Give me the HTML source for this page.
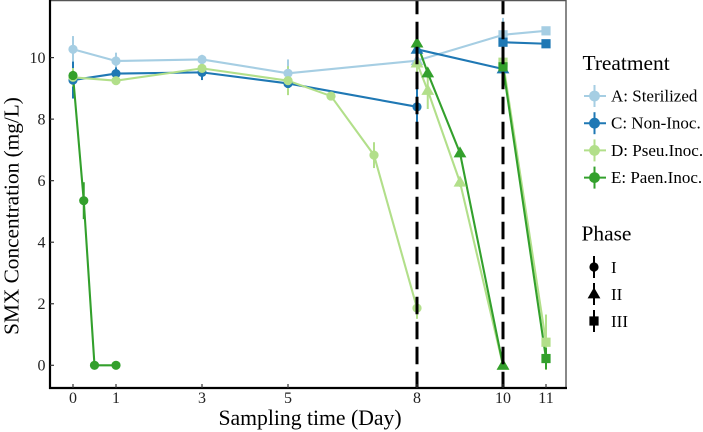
<!DOCTYPE html>
<html>
<head>
<meta charset="utf-8">
<style>
html,body{margin:0;padding:0;background:#fff;}
svg{display:block;font-family:"Liberation Serif",serif;}
</style>
</head>
<body>
<svg id="chart" xmlns="http://www.w3.org/2000/svg" width="703" height="432" viewBox="0 0 703 432">
<rect x="0" y="0" width="703" height="432" fill="#fff"/>
<g id="marks"></g>
<g id="axes"></g>
<text x="310" y="425" font-size="21.7" text-anchor="middle" fill="#000">Sampling time (Day)</text>
<text transform="translate(18.5,216) rotate(-90)" font-size="21.3" text-anchor="middle" fill="#000">SMX Concentration (mg/L)</text>
<g id="legend"></g>
</svg>
<script>
const xTicks = [0, 1, 3, 5, 8, 10, 11];
const yTicks = [0, 2, 4, 6, 8, 10];
const phaseBreaks = [8, 10];

const treatmentNames = ["A: Sterilized", "C: Non-Inoc.", "D: Pseu.Inoc.", "E: Paen.Inoc."];
const phaseNames = ["I", "II", "III"];

const aDays = [0, 1, 3, 5, 8, 10, 11];
const aValues = [10.27, 9.89, 9.94, 9.49, 9.9, 10.74, 10.87];
const aErrors = [0.43, 0.27, 0.15, 0.45, 0.5, 0.55, 0.08];
const aPhases = ["I", "I", "I", "I", "II", "III", "III"];

const c1Days = [0, 1, 3, 5, 8];
const c1Values = [9.27, 9.48, 9.52, 9.16, 8.4];
const c1Errors = [0.6, 0.2, 0.25, 0.15, 0.6];
const c2Days = [8, 10];
const c2Values = [10.27, 9.63];
const c2Errors = [0.3, 0.25];
const c3Days = [10, 11];
const c3Values = [10.5, 10.45];
const c3Errors = [0.3, 0.08];

const d1Days = [0, 1, 3, 5, 6, 7, 8];
const d1Values = [9.36, 9.25, 9.65, 9.25, 8.75, 6.83, 1.86];
const d1Errors = [0.3, 0.12, 0.12, 0.47, 0.1, 0.42, 0.35];
const d2Days = [8, 8.25, 9, 10];
const d2Values = [9.82, 8.93, 5.95, 0];
const d2Errors = [0.45, 0.6, 0.15, 0.05];
const d3Days = [10, 11];
const d3Values = [9.85, 0.75];
const d3Errors = [0.3, 0.9];

const e1Days = [0, 0.25, 0.5, 1];
const e1Values = [9.42, 5.35, 0, 0];
const e1Errors = [0.15, 0.6, 0.02, 0.02];
const e2Days = [8, 8.25, 9, 10];
const e2Values = [10.47, 9.5, 6.9, 0];
const e2Errors = [0.15, 0.15, 0.12, 0.05];
const e3Days = [10, 11];
const e3Values = [9.7, 0.22];
const e3Errors = [0.25, 0.35];

const NS = "http://www.w3.org/2000/svg";
const colors = ["#a6cee3", "#1f78b4", "#b2df8a", "#33a02c"];
function xScale(d) { return 73 + 43 * d; }
function yScale(v) { return 365.3 - 30.77 * v; }
function make(tag, attrs, parent) {
  const el = document.createElementNS(NS, tag);
  for (const k in attrs) el.setAttribute(k, attrs[k]);
  parent.appendChild(el);
  return el;
}
function fixedPhase(n, p) { return new Array(n).fill(p); }

const paths = [
  { t: 0, key: "a", days: aDays, values: aValues, errors: aErrors, phases: aPhases },
  { t: 1, key: "c-phase-1", days: c1Days, values: c1Values, errors: c1Errors, phases: fixedPhase(c1Days.length, "I") },
  { t: 1, key: "c-phase-2", days: c2Days, values: c2Values, errors: c2Errors, phases: fixedPhase(c2Days.length, "II") },
  { t: 1, key: "c-phase-3", days: c3Days, values: c3Values, errors: c3Errors, phases: fixedPhase(c3Days.length, "III") },
  { t: 2, key: "d-phase-1", days: d1Days, values: d1Values, errors: d1Errors, phases: fixedPhase(d1Days.length, "I") },
  { t: 2, key: "d-phase-2", days: d2Days, values: d2Values, errors: d2Errors, phases: fixedPhase(d2Days.length, "II") },
  { t: 2, key: "d-phase-3", days: d3Days, values: d3Values, errors: d3Errors, phases: fixedPhase(d3Days.length, "III") },
  { t: 3, key: "e-phase-1", days: e1Days, values: e1Values, errors: e1Errors, phases: fixedPhase(e1Days.length, "I") },
  { t: 3, key: "e-phase-2", days: e2Days, values: e2Values, errors: e2Errors, phases: fixedPhase(e2Days.length, "II") },
  { t: 3, key: "e-phase-3", days: e3Days, values: e3Values, errors: e3Errors, phases: fixedPhase(e3Days.length, "III") }
];

function drawShape(parent, phase, cx, cy, fill) {
  let el;
  if (phase === "I") {
    el = make("circle", { cx: cx, cy: cy, r: 4.6, fill: fill }, parent);
  } else if (phase === "II") {
    const pts = [[cx, cy - 6.6], [cx + 6.4, cy + 4.4], [cx - 6.4, cy + 4.4]].map(function (p) { return p.join(","); }).join(" ");
    el = make("polygon", { points: pts, fill: fill }, parent);
  } else {
    el = make("rect", { x: cx - 4.6, y: cy - 4.6, width: 9.2, height: 9.2, fill: fill }, parent);
  }
  return el;
}

const marks = document.getElementById("marks");

paths.forEach(function (p) {
  p.days.forEach(function (d, i) {
    const bar = make("line", {
      x1: xScale(d), x2: xScale(d),
      y1: yScale(p.values[i] - p.errors[i]), y2: yScale(p.values[i] + p.errors[i]),
      stroke: colors[p.t], "stroke-width": 2
    }, marks);
    
    
  });
  const line = make("polyline", {
    points: p.days.map(function (d, i) { return xScale(d) + "," + yScale(p.values[i]); }).join(" "),
    fill: "none", stroke: colors[p.t], "stroke-width": 2.1, "stroke-linejoin": "round"
  }, marks);
  
  
});

paths.forEach(function (p) {
  p.days.forEach(function (d, i) {
    const s = drawShape(marks, p.phases[i], xScale(d), yScale(p.values[i]), colors[p.t]);
    
    
  });
});

phaseBreaks.forEach(function (d) {
  const v = make("line", {
    x1: xScale(d), x2: xScale(d), y1: -3.3, y2: 388,
    stroke: "#000", "stroke-width": 3, "stroke-dasharray": "17.5 7.5"
  }, marks);
  
  
});

const axes = document.getElementById("axes");
const frame = make("path", { d: "M50,0.5H566V388", fill: "none", stroke: "#555", "stroke-width": 1.4 }, axes);


const yAxisLine = make("line", { x1: 50, x2: 50, y1: 0, y2: 389, stroke: "#000", "stroke-width": 2.2 }, axes);


const xAxisLine = make("line", { x1: 49, x2: 567, y1: 388, y2: 388, stroke: "#000", "stroke-width": 2.2 }, axes);



xTicks.forEach(function (d) {
  const t = make("line", { x1: xScale(d), x2: xScale(d), y1: 384, y2: 388, stroke: "#333", "stroke-width": 1.2 }, axes);
  
  
  const l = make("text", { x: xScale(d), y: 403, "font-size": 16, "text-anchor": "middle", fill: "#222" }, axes);
  l.textContent = d;
  
  
});
yTicks.forEach(function (v) {
  const t = make("line", { x1: 50, x2: 54, y1: yScale(v), y2: yScale(v), stroke: "#333", "stroke-width": 1.2 }, axes);
  
  
  const l = make("text", { x: 45.5, y: yScale(v) + 5.3, "font-size": 16, "text-anchor": "end", fill: "#222" }, axes);
  l.textContent = v;
  
  
});

const legend = document.getElementById("legend");
const t1 = make("text", { x: 582.5, y: 70, "font-size": 21.4, fill: "#000" }, legend);
t1.textContent = "Treatment";


const t2 = make("text", { x: 581.5, y: 240.5, "font-size": 21.4, fill: "#000" }, legend);
t2.textContent = "Phase";



treatmentNames.forEach(function (name, i) {
  const cy = 96 + 27.2 * i;
  const g = make("g", {}, legend);
  
  
  make("line", { x1: 584, x2: 606, y1: cy, y2: cy, stroke: colors[i], "stroke-width": 2 }, g);
  make("line", { x1: 594.5, x2: 594.5, y1: cy - 11, y2: cy + 11, stroke: colors[i], "stroke-width": 2 }, g);
  make("circle", { cx: 594.5, cy: cy, r: 5.4, fill: colors[i] }, g);
  const l = make("text", { x: 611, y: cy + 5.5, "font-size": 17, fill: "#000" }, g);
  l.textContent = name;
});
phaseNames.forEach(function (name, i) {
  const cy = 267 + 27 * i;
  const g = make("g", {}, legend);
  
  
  make("line", { x1: 594, x2: 594, y1: cy - 11, y2: cy + 11, stroke: "#000", "stroke-width": 2 }, g);
  drawShape(g, name, 594, cy, "#000");
  const l = make("text", { x: 611, y: cy + 6, "font-size": 17, fill: "#000" }, g);
  l.textContent = name;
});
</script>
</body>
</html>
